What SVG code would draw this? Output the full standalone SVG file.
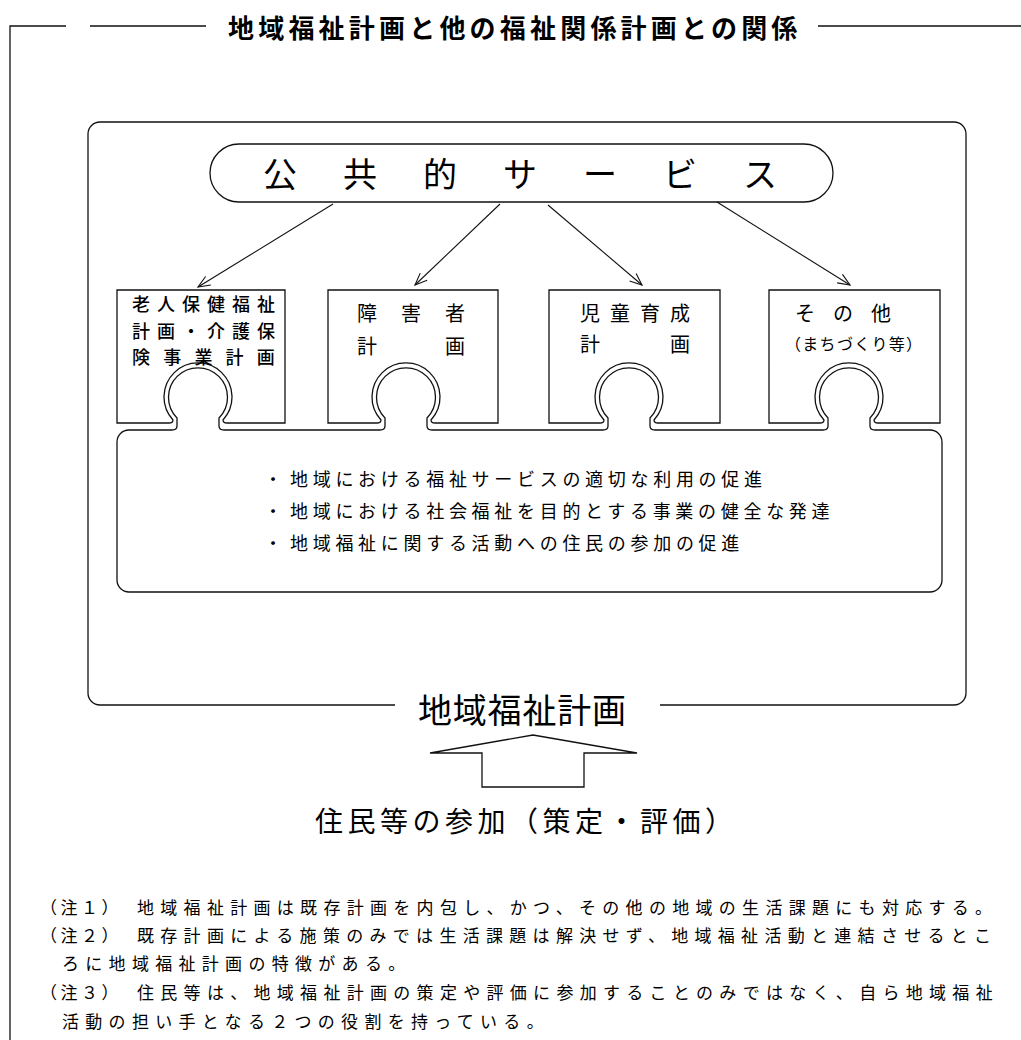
<svg xmlns="http://www.w3.org/2000/svg" width="1021" height="1040" viewBox="0 0 1021 1040">
<defs>
<style>
text { font-family: "Noto Sans CJK JP", "Noto Sans CJK SC", sans-serif; fill: #000; dominant-baseline: central; }
.ln { fill: none; stroke: #111; stroke-width: 1.3; }
.box { fill: #fff; stroke: #111; stroke-width: 1.3; }
.conn { fill: none; stroke: #111; stroke-width: 1.1; }
.bt { font-size: 20px; }
.et { font-size: 18px; font-weight: 500; }
.lt { font-size: 18px; letter-spacing: 4.7px; }
.nt { font-size: 17px; letter-spacing: 6.3px; }
.nl { font-size: 17px; letter-spacing: 3.5px; }
</style>
<marker id="open" markerUnits="userSpaceOnUse" markerWidth="16" markerHeight="14" refX="13" refY="7" orient="auto">
<path d="M1,2 L13,7 L1,12" fill="none" stroke="#111" stroke-width="1.1"/>
</marker>
</defs>
<rect width="1021" height="1040" fill="#fff"/>

<g id="frame">
<path class="ln" d="M10,1040 V26 H66 M90,26 H206 M818,26 H1021"/>
</g>
<g id="title">
<text x="228" y="26" font-size="26" font-weight="bold" letter-spacing="4.2">地域福祉計画と他の福祉関係計画との関係</text>
</g>

<g id="main-frame">
<path class="ln" d="M395,705 H100 A12,12 0 0 1 88,693 V134 A12,12 0 0 1 100,122 H954 A12,12 0 0 1 966,134 V693 A12,12 0 0 1 954,705 H660"/>
<text x="418" y="708" font-size="34" letter-spacing="0.8">地域福祉計画</text>
</g>

<g id="public-services">
<rect class="box" x="210" y="144" width="623" height="58" rx="29" ry="29"/>
<text x="263" y="172" font-size="34" letter-spacing="46">公共的サービス</text>
</g>

<g id="base-box">
<path class="box" d="M117,442 A12,12 0 0 1 129,430
H172 Q177,430 177,426 V418 A29.5,29.5 0 1 1 219,418 V426 Q219,430 224,430
H380 Q385,430 385,426 V418 A29.5,29.5 0 1 1 427,418 V426 Q427,430 432,430
H603 Q608,430 608,426 V418 A29.5,29.5 0 1 1 650,418 V426 Q650,430 655,430
H823 Q828,430 828,426 V418 A29.5,29.5 0 1 1 870,418 V426 Q870,430 875,430
H930 A12,12 0 0 1 942,442 V580 A12,12 0 0 1 930,592 H129 A12,12 0 0 1 117,580 Z"/>
<text x="273" y="478" font-size="18" text-anchor="middle">・</text>
<text x="273" y="510" font-size="18" text-anchor="middle">・</text>
<text x="273" y="542" font-size="18" text-anchor="middle">・</text>
<text class="lt" x="290" y="478">地域における福祉サービスの適切な利用の促進</text>
<text class="lt" x="290" y="510">地域における社会福祉を目的とする事業の健全な発達</text>
<text class="lt" x="290" y="542">地域福祉に関する活動への住民の参加の促進</text>
</g>

<g id="plan-elderly">
<path class="box" d="M117,290 H285 V423 H227 Q223,423 223,420 A34,34 0 1 0 173,420 Q173,423 169,423 H117 Z"/>
<text class="et" x="132" y="303" letter-spacing="7">老人保健福祉</text>
<text class="et" x="132" y="329.5" letter-spacing="7">計画・介護保</text>
<text class="et" x="132" y="356" letter-spacing="13.2">険事業計画</text>
</g>

<g id="plan-disability">
<path class="box" d="M328,290 H498 V423 H435 Q431,423 431,420 A34,34 0 1 0 381,420 Q381,423 377,423 H328 Z"/>
<text class="bt" x="357" y="312" letter-spacing="24">障害者</text>
<text class="bt" x="357" y="345" letter-spacing="68">計画</text>
</g>

<g id="plan-child">
<path class="box" d="M549,290 H720 V423 H658 Q654,423 654,420 A34,34 0 1 0 604,420 Q604,423 600,423 H549 Z"/>
<text class="bt" x="580" y="312" letter-spacing="10">児童育成</text>
<text class="bt" x="580" y="343" letter-spacing="70">計画</text>
</g>

<g id="plan-other">
<path class="box" d="M769,290 H940 V423 H878 Q874,423 874,420 A34,34 0 1 0 824,420 Q824,423 820,423 H769 Z"/>
<text class="bt" x="795" y="312" letter-spacing="18">その他</text>
<text x="785" y="343" font-size="16" letter-spacing="1.3">（まちづくり等）</text>
</g>

<g id="connectors">
<line class="conn" x1="333" y1="204" x2="198" y2="287" marker-end="url(#open)"/>
<line class="conn" x1="500" y1="204" x2="415" y2="285" marker-end="url(#open)"/>
<line class="conn" x1="548" y1="205" x2="642" y2="285" marker-end="url(#open)"/>
<line class="conn" x1="717" y1="202" x2="850" y2="285" marker-end="url(#open)"/>
</g>

<g id="participation-arrow">
<path class="ln" d="M482,787 V753 H430 L533,735 L637,753 H584 V787 Z"/>
</g>
<g id="participation-label">
<text x="315" y="820" font-size="28" letter-spacing="4.5">住民等の参加（策定・評価）</text>
</g>

<g id="notes">
<text class="nl" x="40" y="906">（注１）</text>
<text class="nt" x="137" y="906">地域福祉計画は既存計画を内包し、かつ、その他の地域の生活課題にも対応する。</text>
<text class="nl" x="40" y="934">（注２）</text>
<text class="nt" x="137" y="934">既存計画による施策のみでは生活課題は解決せず、地域福祉活動と連結させるとこ</text>
<text class="nt" x="62" y="962">ろに地域福祉計画の特徴がある。</text>
<text class="nl" x="40" y="991">（注３）</text>
<text class="nt" x="137" y="991">住民等は、地域福祉計画の策定や評価に参加することのみではなく、自ら地域福祉</text>
<text class="nt" x="62" y="1020">活動の担い手となる２つの役割を持っている。</text>
</g>
</svg>
